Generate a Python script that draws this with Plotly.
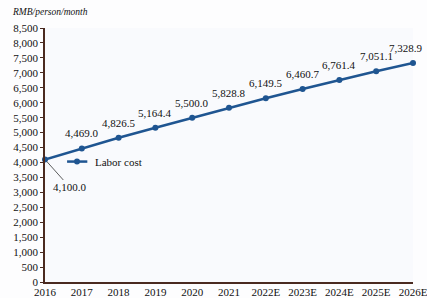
import plotly.graph_objects as go

years = ["2016", "2017", "2018", "2019", "2020", "2021", "2022E", "2023E", "2024E", "2025E", "2026E"]
labor_cost = [4100.0, 4469.0, 4826.5, 5164.4, 5500.0, 5828.8, 6149.5, 6460.7, 6761.4, 7051.1, 7328.9]
y_ticks = list(range(0, 8501, 500))

font = "Liberation Serif, Times New Roman, serif"
blue = "#1f5591"
axis_col = "#4a2a20"
fs = 11

fig = go.Figure()
fig.add_trace(go.Scatter(
    x=list(range(len(years))), y=labor_cost, mode="lines+markers",
    line=dict(color=blue, width=2.5), marker=dict(size=6, color=blue),
    name="Labor cost", showlegend=False, cliponaxis=False,
))

annotations = []
n = len(years)
for i, (yr, v) in enumerate(zip(years, labor_cost)):
    if i == 0:
        continue
    annotations.append(dict(x=i, y=v, text=f"{v:,.1f}", showarrow=False,
                            xanchor="center", yanchor="bottom", yshift=7,
                            xshift=-7 if i == n - 1 else 0,
                            font=dict(family=font, size=fs, color="#111")))
# first point label with leader line
annotations.append(dict(x=0, y=labor_cost[0], ax=25, ay=28, text=f"{labor_cost[0]:,.1f}",
                        showarrow=True, arrowhead=0, arrowwidth=0.8, arrowcolor="#333",
                        standoff=3,
                        font=dict(family=font, size=fs, color="#111")))
annotations.append(dict(xref="paper", yref="paper", x=-35 / 368, y=1.0, yshift=9,
                        text="<i>RMB/person/month</i>", showarrow=False,
                        xanchor="left", yanchor="bottom",
                        font=dict(family=font, size=9.5, color="#111")))

# legend drawn as a small sample line with marker
fig.add_shape(type="line", x0=0.6, x1=1.15, y0=4030, y1=4030, line=dict(color=blue, width=2.5))
fig.add_trace(go.Scatter(x=[0.87], y=[4030], mode="markers", marker=dict(size=6, color=blue),
                         showlegend=False, hoverinfo="skip"))
annotations.append(dict(x=1.3, y=4030, text="Labor cost", showarrow=False, xanchor="left",
                        yanchor="middle", font=dict(family=font, size=fs, color="#111")))

fig.update_layout(
    width=427, height=298,
    margin=dict(l=45, r=14, t=28, b=16),
    paper_bgcolor="#fdfdfe", plot_bgcolor="#f9fafd",
    font=dict(family=font, size=fs, color="#111"),
    annotations=annotations,
    xaxis=dict(tickmode="array", tickvals=list(range(n)), ticktext=years,
               range=[0, n - 1], showgrid=False, zeroline=False, automargin=False,
               showline=True, linecolor=axis_col, linewidth=1.5,
               ticklabeloverflow="allow", ticklabelstandoff=-1,
               tickfont=dict(family=font, size=fs)),
    yaxis=dict(tickmode="array", tickvals=y_ticks, ticktext=[f"{t:,}" for t in y_ticks],
               range=[0, 8500], showgrid=False, zeroline=False, automargin=False,
               showline=True, linecolor=axis_col, linewidth=1.5,
               ticks="outside", ticklen=3, tickcolor=axis_col,
               tickfont=dict(family=font, size=fs)),
)

fig.write_html("out.html", config={"displayModeBar": False},
               post_script="document.body.style.margin='0';")
